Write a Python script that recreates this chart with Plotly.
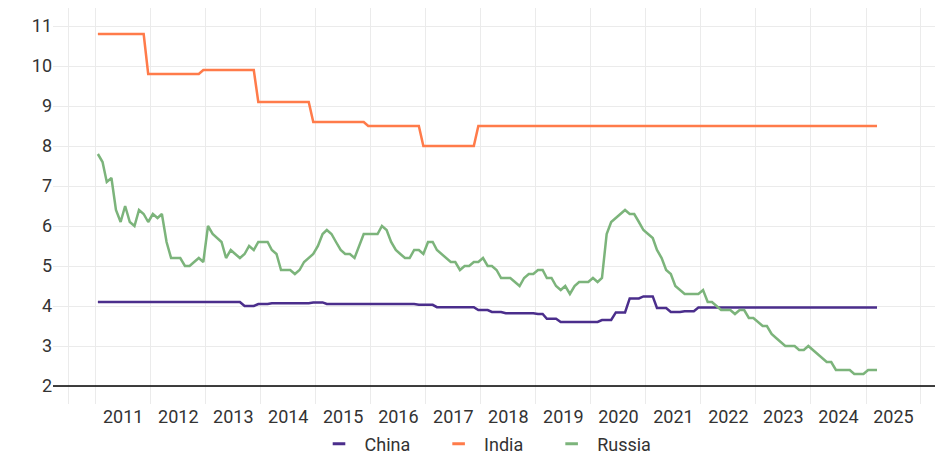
import pandas as pd
import plotly.graph_objects as go

# Monthly observations, Jan 2011 - Mar 2025
dates = pd.date_range("2011-01-01", periods=171, freq="MS") + pd.Timedelta(days=14)

china = [
    4.1, 4.1, 4.1, 4.1, 4.1, 4.1, 4.1, 4.1, 4.1, 4.1, 4.1, 4.1,            # 2011
    4.1, 4.1, 4.1, 4.1, 4.1, 4.1, 4.1, 4.1, 4.1, 4.1, 4.1, 4.1,            # 2012
    4.1, 4.1, 4.1, 4.1, 4.1, 4.1, 4.1, 4.1, 4.0, 4.0, 4.0, 4.05,           # 2013
    4.05, 4.05, 4.07, 4.07, 4.07, 4.07, 4.07, 4.07, 4.07, 4.07, 4.07, 4.09,  # 2014
    4.09, 4.09, 4.05, 4.05, 4.05, 4.05, 4.05, 4.05, 4.05, 4.05, 4.05, 4.05,  # 2015
    4.04, 4.04, 4.04, 4.04, 4.05, 4.05, 4.05, 4.05, 4.05, 4.05, 4.03, 4.03,  # 2016
    4.03, 4.03, 3.97, 3.97, 3.97, 3.97, 3.97, 3.97, 3.97, 3.97, 3.97, 3.9,   # 2017
    3.9, 3.9, 3.85, 3.85, 3.85, 3.82, 3.82, 3.82, 3.82, 3.82, 3.82, 3.82,    # 2018
    3.8, 3.8, 3.68, 3.68, 3.68, 3.6, 3.6, 3.6, 3.6, 3.6, 3.6, 3.6,           # 2019
    3.6, 3.6, 3.65, 3.65, 3.65, 3.84, 3.84, 3.84, 4.19, 4.19, 4.19, 4.24,    # 2020
    4.24, 4.24, 3.95, 3.95, 3.95, 3.85, 3.85, 3.85, 3.87, 3.87, 3.87, 3.96,  # 2021
    3.96, 3.96, 3.96, 3.96, 3.96, 3.96, 3.96, 3.96, 3.96, 3.96, 3.96, 3.96,  # 2022
    3.96, 3.96, 3.96, 3.96, 3.96, 3.96, 3.96, 3.96, 3.96, 3.96, 3.96, 3.96,  # 2023
    3.96, 3.96, 3.96, 3.96, 3.96, 3.96, 3.96, 3.96, 3.96, 3.96, 3.96, 3.96,  # 2024
    3.96, 3.96, 3.96,                                                        # 2025
]

india = [
    10.8, 10.8, 10.8, 10.8, 10.8, 10.8, 10.8, 10.8, 10.8, 10.8, 10.8, 9.8,  # 2011
    9.8, 9.8, 9.8, 9.8, 9.8, 9.8, 9.8, 9.8, 9.8, 9.8, 9.8, 9.9,             # 2012
    9.9, 9.9, 9.9, 9.9, 9.9, 9.9, 9.9, 9.9, 9.9, 9.9, 9.9, 9.1,             # 2013
    9.1, 9.1, 9.1, 9.1, 9.1, 9.1, 9.1, 9.1, 9.1, 9.1, 9.1, 8.6,             # 2014
    8.6, 8.6, 8.6, 8.6, 8.6, 8.6, 8.6, 8.6, 8.6, 8.6, 8.6, 8.5,             # 2015
    8.5, 8.5, 8.5, 8.5, 8.5, 8.5, 8.5, 8.5, 8.5, 8.5, 8.5, 8.0,             # 2016
    8.0, 8.0, 8.0, 8.0, 8.0, 8.0, 8.0, 8.0, 8.0, 8.0, 8.0, 8.5,             # 2017
    8.5, 8.5, 8.5, 8.5, 8.5, 8.5, 8.5, 8.5, 8.5, 8.5, 8.5, 8.5,             # 2018
    8.5, 8.5, 8.5, 8.5, 8.5, 8.5, 8.5, 8.5, 8.5, 8.5, 8.5, 8.5,             # 2019
    8.5, 8.5, 8.5, 8.5, 8.5, 8.5, 8.5, 8.5, 8.5, 8.5, 8.5, 8.5,             # 2020
    8.5, 8.5, 8.5, 8.5, 8.5, 8.5, 8.5, 8.5, 8.5, 8.5, 8.5, 8.5,             # 2021
    8.5, 8.5, 8.5, 8.5, 8.5, 8.5, 8.5, 8.5, 8.5, 8.5, 8.5, 8.5,             # 2022
    8.5, 8.5, 8.5, 8.5, 8.5, 8.5, 8.5, 8.5, 8.5, 8.5, 8.5, 8.5,             # 2023
    8.5, 8.5, 8.5, 8.5, 8.5, 8.5, 8.5, 8.5, 8.5, 8.5, 8.5, 8.5,             # 2024
    8.5, 8.5, 8.5,                                                          # 2025
]

russia = [
    7.8, 7.6, 7.1, 7.2, 6.4, 6.1, 6.5, 6.1, 6.0, 6.4, 6.3, 6.1,  # 2011
    6.3, 6.2, 6.3, 5.6, 5.2, 5.2, 5.2, 5.0, 5.0, 5.1, 5.2, 5.1,  # 2012
    6.0, 5.8, 5.7, 5.6, 5.2, 5.4, 5.3, 5.2, 5.3, 5.5, 5.4, 5.6,  # 2013
    5.6, 5.6, 5.4, 5.3, 4.9, 4.9, 4.9, 4.8, 4.9, 5.1, 5.2, 5.3,  # 2014
    5.5, 5.8, 5.9, 5.8, 5.6, 5.4, 5.3, 5.3, 5.2, 5.5, 5.8, 5.8,  # 2015
    5.8, 5.8, 6.0, 5.9, 5.6, 5.4, 5.3, 5.2, 5.2, 5.4, 5.4, 5.3,  # 2016
    5.6, 5.6, 5.4, 5.3, 5.2, 5.1, 5.1, 4.9, 5.0, 5.0, 5.1, 5.1,  # 2017
    5.2, 5.0, 5.0, 4.9, 4.7, 4.7, 4.7, 4.6, 4.5, 4.7, 4.8, 4.8,  # 2018
    4.9, 4.9, 4.7, 4.7, 4.5, 4.4, 4.5, 4.3, 4.5, 4.6, 4.6, 4.6,  # 2019
    4.7, 4.6, 4.7, 5.8, 6.1, 6.2, 6.3, 6.4, 6.3, 6.3, 6.1, 5.9,  # 2020
    5.8, 5.7, 5.4, 5.2, 4.9, 4.8, 4.5, 4.4, 4.3, 4.3, 4.3, 4.3,  # 2021
    4.4, 4.1, 4.1, 4.0, 3.9, 3.9, 3.9, 3.8, 3.9, 3.9, 3.7, 3.7,  # 2022
    3.6, 3.5, 3.5, 3.3, 3.2, 3.1, 3.0, 3.0, 3.0, 2.9, 2.9, 3.0,  # 2023
    2.9, 2.8, 2.7, 2.6, 2.6, 2.4, 2.4, 2.4, 2.4, 2.3, 2.3, 2.3,  # 2024
    2.4, 2.4, 2.4,                                                # 2025
]

series_names = ["China", "India", "Russia"]
series_values = [china, india, russia]
colors = ["#4b2e8c", "#ff7b4a", "#7cb47b"]

# axis ticks: year labels centred in each year, grid lines at year boundaries
year_labels = [str(y) for y in range(2011, 2026)]
year_label_pos = [f"{y}-07-02" for y in range(2011, 2026)]
year_grid = ["2010-07-01"] + [f"{y}-01-01" for y in range(2011, 2027)]
y_ticks = [2, 3, 4, 5, 6, 7, 8, 9, 10, 11]

fig = go.Figure()
for name, vals, col in zip(series_names, series_values, colors):
    fig.add_trace(go.Scatter(x=dates, y=vals, mode="lines", name=name,
                             line=dict(color=col, width=2.5), showlegend=False))
pad = "\u00a0" * 4
for name, col in zip(series_names, colors):
    fig.add_trace(go.Scatter(x=[None], y=[None], mode="markers", name=name + pad,
                             marker=dict(symbol="line-ew-open", size=9, color=col,
                                         line=dict(color=col, width=3))))

fig.add_shape(type="line", xref="paper", x0=0, x1=1, yref="y", y0=2, y1=2,
              line=dict(color="black", width=1.4))

fig.update_layout(
    width=944, height=453,
    margin=dict(l=45, r=17, t=0, b=57, autoexpand=False),
    paper_bgcolor="white", plot_bgcolor="white",
    font=dict(family="Roboto", size=18, color="#333333"),
    legend=dict(orientation="h", x=0.5, xanchor="center",
                yref="container", y=0.0375, yanchor="middle",
                font=dict(size=18), itemwidth=41),
    xaxis=dict(
        type="date", automargin=False,
        range=["2010-03-23", "2026-04-04"],
        tickvals=year_label_pos, ticktext=year_labels,
        showgrid=False, zeroline=False, showline=False, ticks="",
        minor=dict(tickvals=year_grid, showgrid=True, gridcolor="#ebebeb",
                   gridwidth=1, ticks=""),
    ),
    yaxis=dict(
        automargin=False,
        range=[1.55, 11.45], tickvals=y_ticks,
        showgrid=True, gridcolor="#ebebeb", gridwidth=1,
        zeroline=False, showline=False, ticks="",
    ),
)

fig.write_html("out.html")
